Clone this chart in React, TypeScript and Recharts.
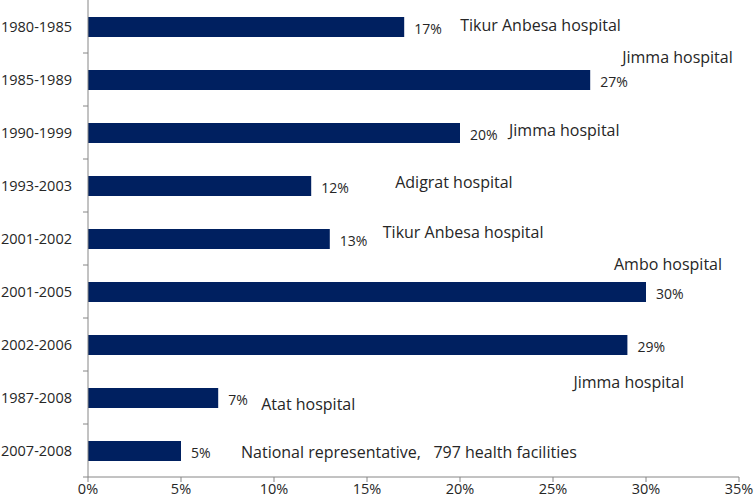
import { BarChart, Bar, XAxis, YAxis, LabelList } from "recharts";

const PERIODS = [
  "1980-1985",
  "1985-1989",
  "1990-1999",
  "1993-2003",
  "2001-2002",
  "2001-2005",
  "2002-2006",
  "1987-2008",
  "2007-2008",
];

const RATES = [17, 27, 20, 12, 13, 30, 29, 7, 5];

const SITES = [
  "Tikur Anbesa hospital",
  "Jimma hospital",
  "Jimma hospital",
  "Adigrat hospital",
  "Tikur Anbesa hospital",
  "Ambo hospital",
  "Jimma hospital",
  "Atat hospital",
  "National representative,   797 health facilities",
];

const X_TICKS = [0, 5, 10, 15, 20, 25, 30, 35];

// where each site note sits, relative to the end of its bar
const NOTE_OFFSET: [number, number][] = [
  [56, -2],
  [32, -23],
  [49, -3],
  [84, -4],
  [53, -7],
  [-32, -28],
  [-54, 37],
  [43, 6],
  [60, 1],
];

const data = PERIODS.map((period, i) => ({
  period,
  rate: RATES[i],
  site: SITES[i],
}));

const FONT = "'Open Sans', sans-serif";
const TEXT = "#262626";
const AXIS = "#868686";
const BAND = 477 / PERIODS.length;

// recharts hands the tick an x that sits 8px left of the axis line
const PeriodTick = ({ x, y, payload }: any) => {
  const axisX = x + 8;
  return (
    <g>
      <text
        x={axisX - 16}
        y={y}
        textAnchor="end"
        dominantBaseline="central"
        fontSize={14.5}
        fontFamily={FONT}
        fill={TEXT}
      >
        {payload.value}
      </text>
      <line
        x1={axisX - 5}
        x2={axisX}
        y1={y + BAND / 2}
        y2={y + BAND / 2}
        stroke={AXIS}
      />
    </g>
  );
};

const BarNote = (props: any) => {
  const { x, y, width, height, index } = props;
  const endX = x + width;
  const cy = y + height / 2;
  const [dx, dy] = NOTE_OFFSET[index];
  return (
    <g fontFamily={FONT} fill={TEXT}>
      <text x={endX + 10} y={cy + 1} dominantBaseline="central" fontSize={14}>
        {`${RATES[index]}%`}
      </text>
      <text
        x={endX + dx}
        y={cy + dy}
        dominantBaseline="central"
        fontSize={16}
        style={{ whiteSpace: "pre" }}
      >
        {SITES[index]}
      </text>
    </g>
  );
};

export default function App() {
  return (
    <div style={{ position: "absolute", left: 0, top: 0, background: "#fff" }}>
      <BarChart
        width={754}
        height={503}
        data={data}
        layout="vertical"
        margin={{ top: 0, right: 15, left: 0, bottom: 0 }}
        barCategoryGap={16}
      >
        <XAxis
          type="number"
          domain={[0, 35]}
          ticks={X_TICKS}
          tickFormatter={(v) => `${v}%`}
          height={26}
          stroke={AXIS}
          tickSize={5}
          tick={{ fill: TEXT, fontSize: 14.5, fontFamily: FONT }}
          interval={0}
        />
        <YAxis
          type="category"
          dataKey="period"
          width={88}
          stroke={AXIS}
          tickLine={false}
          tick={<PeriodTick />}
          interval={0}
        />
        <Bar dataKey="rate" fill="#002060" barSize={20} isAnimationActive={false}>
          <LabelList dataKey="rate" content={<BarNote />} />
        </Bar>
      </BarChart>
    </div>
  );
}
